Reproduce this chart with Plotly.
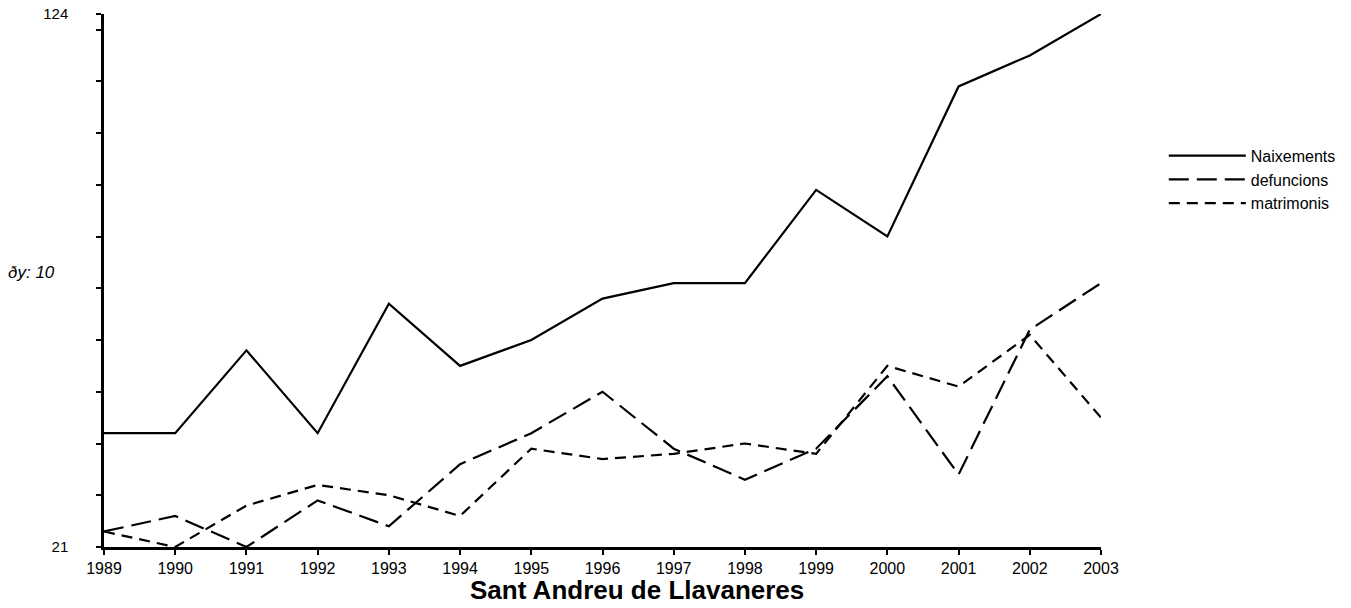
import plotly.graph_objects as go

years = list(range(1989, 2004))
naixements = [43, 43, 59, 43, 68, 56, 61, 69, 72, 72, 90, 81, 110, 116, 124]
defuncions = [24, 27, 21, 30, 25, 37, 43, 51, 40, 34, 40, 54, 35, 63, 72]
matrimonis = [24, 21, 29, 33, 31, 27, 40, 38, 39, 41, 39, 56, 52, 62, 46]

y_min, y_max = 21, 124
y_tickvals = list(range(21, 122, 10)) + [124]
y_ticktext = ["21"] + [""] * 10 + ["124"]

FONT = "Arial, Liberation Sans, sans-serif"

fig = go.Figure()
fig.add_trace(go.Scatter(x=years, y=naixements, mode="lines", name="Naixements",
                         line=dict(color="black", width=2.2)))
fig.add_trace(go.Scatter(x=years, y=defuncions, mode="lines", name="defuncions",
                         line=dict(color="black", width=2.2, dash="20px,8px")))
fig.add_trace(go.Scatter(x=years, y=matrimonis, mode="lines", name="matrimonis",
                         line=dict(color="black", width=2.2, dash="11px,7px")))

fig.update_layout(
    width=1351, height=608,
    margin=dict(l=104, r=250, t=14, b=61, autoexpand=False),
    paper_bgcolor="white", plot_bgcolor="white",
    font=dict(family=FONT, color="black"),
    showlegend=True,
    legend=dict(x=1.063, y=0.766, xanchor="left", yanchor="top",
                font=dict(size=16, family=FONT), itemwidth=77,
                bgcolor="rgba(0,0,0,0)", tracegroupgap=0),
    xaxis=dict(range=[1989, 2003], tickvals=years, ticks="outside", ticklen=5,
               tickwidth=2, tickcolor="black", showline=True, linewidth=2.5,
               linecolor="black", showgrid=False, zeroline=False,
               tickfont=dict(size=16, family=FONT), automargin=False),
    yaxis=dict(range=[y_min, y_max], tickvals=y_tickvals, ticktext=y_ticktext,
               ticks="outside", ticklen=5, tickwidth=2, tickcolor="black",
               showline=True, linewidth=2.5, linecolor="black", showgrid=False,
               zeroline=False, tickfont=dict(size=15, family=FONT),
               ticklabelstandoff=25, automargin=False),
    annotations=[
        dict(text="<b>Sant Andreu de Llavaneres</b>", xref="paper", yref="paper",
             x=0.5346, y=-0.081, xanchor="center", yanchor="middle",
             showarrow=False, font=dict(size=26, family=FONT)),
        dict(text="<i>ðy: 10</i>", xref="paper", yref="paper",
             x=-0.0983, y=0.5156, xanchor="left", yanchor="middle",
             showarrow=False, font=dict(size=17, family=FONT)),
    ],
)

fig.write_html("out.html", config={"displayModeBar": False},
               post_script="document.body.style.margin='0';")
